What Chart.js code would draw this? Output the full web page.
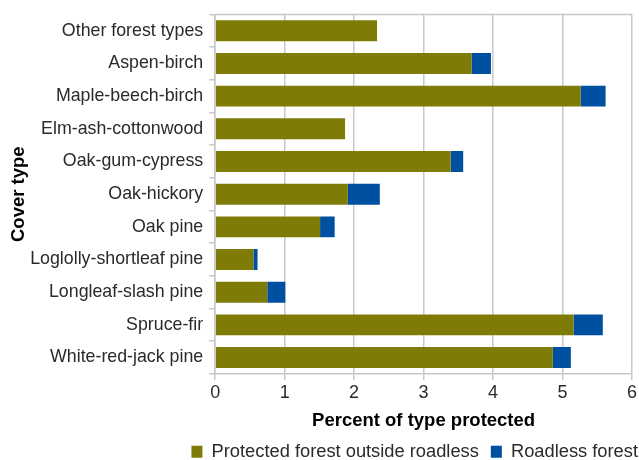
<!DOCTYPE html>
<html><head><meta charset="utf-8">
<script src="https://cdn.jsdelivr.net/npm/chart.js@4/dist/chart.umd.min.js"></script>
<style>html,body{margin:0;padding:0;background:#fff}#wrap{width:639px;height:460px}</style>
</head><body><div id="wrap"><canvas id="c"></canvas></div>
<script>
const categories = ["Other forest types","Aspen-birch","Maple-beech-birch","Elm-ash-cottonwood","Oak-gum-cypress","Oak-hickory","Oak pine","Loglolly-shortleaf pine","Longleaf-slash pine","Spruce-fir","White-red-jack pine"];
const protectedOutside = [2.33,3.69,5.26,1.87,3.39,1.91,1.51,0.55,0.75,5.16,4.86];
const roadless = [0,0.28,0.36,0,0.18,0.46,0.21,0.06,0.26,0.42,0.26];
const xTicks = [0,1,2,3,4,5,6];
const seriesNames = ["Protected forest outside roadless","Roadless forest"];

const font = "'Liberation Sans', Arial, sans-serif";
const tweaks = {
  id: 'tweaks',
  afterLayout(chart) {
    // push the right-aligned legend row flush with the canvas edge
    chart.legend.left += 11;
    chart.legend.right += 11;
  },
  afterDraw(chart) {
    const {ctx, chartArea} = chart;
    ctx.save();
    ctx.strokeStyle = '#c8c8c8';
    ctx.lineWidth = 1.5;
    ctx.beginPath();
    ctx.moveTo(chartArea.left, chartArea.top);
    ctx.lineTo(chartArea.right, chartArea.top);
    ctx.stroke();
    ctx.restore();
  }
};
new Chart(document.getElementById('c'), {
  type: 'bar',
  data: {
    labels: categories,
    datasets: [
      {label: seriesNames[0], data: protectedOutside, backgroundColor: '#7e7c07', barPercentage: 0.64, categoryPercentage: 1},
      {label: seriesNames[1], data: roadless, backgroundColor: '#0050a2', barPercentage: 0.64, categoryPercentage: 1}
    ]
  },
  plugins: [tweaks],
  options: {
    indexAxis: 'y',
    responsive: true,
    maintainAspectRatio: false,
    animation: false,
    layout: {padding: {top: 7, right: 0, left: 8, bottom: -11}},
    scales: {
      x: {
        stacked: true, min: 0, max: 6,
        afterBuildTicks: a => { a.ticks = xTicks.map(v => ({value: v})); },
        grid: {color: '#c8c8c8', lineWidth: 1.5, tickLength: 6, drawTicks: true},
        border: {color: '#c8c8c8', width: 1.5},
        ticks: {color: '#2a2a2a', font: {family: font, size: 18}, padding: 2},
        title: {display: true, text: 'Percent of type protected', color: '#000', font: {family: font, size: 18.5, weight: 'bold'}, padding: {top: 4, bottom: -1}}
      },
      y: {
        stacked: true,
        grid: {offset: true, drawOnChartArea: false, color: '#c8c8c8', lineWidth: 1.5, tickLength: 6},
        border: {color: '#c8c8c8', width: 1.5},
        ticks: {color: '#2a2a2a', font: {family: font, size: 17.8, lineHeight: 0.95}, padding: 6},
        title: {display: true, text: 'Cover type', color: '#000', font: {family: font, size: 18.5, weight: 'bold'}, padding: {top: 0, bottom: -6}}
      }
    },
    plugins: {
      legend: {
        position: 'bottom', align: 'end',
        labels: {boxWidth: 11, boxHeight: 12, color: '#2a2a2a', font: {family: font, size: 18.3}, padding: 12}
      },
      tooltip: {enabled: false}
    }
  }
});
</script></body></html>
